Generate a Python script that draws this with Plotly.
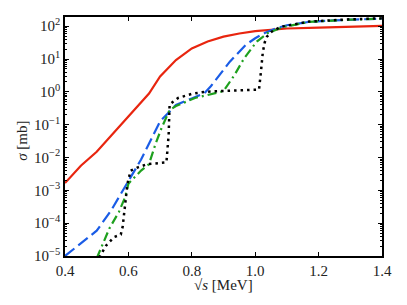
import plotly.graph_objects as go

red_x = [0.4, 0.45, 0.5, 0.55, 0.6, 0.645, 0.665, 0.7, 0.75, 0.8, 0.85, 0.9, 0.95, 1.0, 1.05, 1.1, 1.2, 1.3, 1.4]
red_y = [1.66e-3, 5.6e-3, 1.5e-2, 5.2e-2, 0.18, 0.54, 0.89, 2.95, 9.3, 21, 34, 48, 60, 71, 79, 85, 91, 98, 102]

blue_x = [0.4, 0.45, 0.5, 0.545, 0.58, 0.6, 0.64, 0.7, 0.73, 0.75, 0.8, 0.84, 0.86, 0.92, 0.97, 1.0, 1.03, 1.07, 1.1, 1.17, 1.25, 1.3, 1.4]
blue_y = [1.0e-5, 2.4e-5, 5.9e-5, 2.4e-4, 8.9e-4, 1.8e-3, 8.7e-3, 0.126, 0.26, 0.40, 0.63, 0.91, 1.48, 8.3, 27, 43, 62, 89, 107, 135, 151, 158, 170]

green_x = [0.5, 0.54, 0.57, 0.59, 0.6, 0.64, 0.665, 0.685, 0.705, 0.73, 0.75, 0.81, 0.9, 0.935, 0.965, 1.005, 1.04, 1.09, 1.17, 1.25, 1.3, 1.4]
green_y = [8.5e-6, 6.9e-5, 2.2e-4, 6.3e-4, 1.6e-3, 4.0e-3, 6.3e-3, 2.5e-2, 8.1e-2, 0.28, 0.37, 0.65, 1.05, 3.3, 10.5, 34, 62, 95, 135, 151, 158, 170]

black_x = [0.508, 0.53, 0.555, 0.576, 0.582, 0.587, 0.592, 0.597, 0.607, 0.63, 0.66, 0.72, 0.727, 0.73, 0.742, 0.757, 0.8, 0.84, 0.9, 0.97, 1.012, 1.018, 1.024, 1.03, 1.037, 1.052, 1.08, 1.17, 1.25, 1.3, 1.4]
black_y = [9.0e-6, 2.1e-5, 3.8e-5, 4.5e-5, 7.9e-5, 2.5e-4, 7.9e-4, 1.6e-3, 4.0e-3, 5.0e-3, 6.3e-3, 7.1e-3, 5.0e-2, 0.41, 0.51, 0.65, 0.87, 1.0, 1.07, 1.12, 1.17, 4.0, 16, 32, 48, 68, 95, 138, 155, 162, 174]

x_ticks = [0.4, 0.6, 0.8, 1.0, 1.2, 1.4]
x_ticktext = ["0.4", "0.6", "0.8", "1.0", "1.2", "1.4"]
y_exps = [-5, -4, -3, -2, -1, 0, 1, 2]

y_tickvals = [10.0 ** e for e in y_exps]
y_ticktext = ["10<sup>%s</sup>" % (str(e).replace("-", "\u2212")) for e in y_exps]
y_minor = [m * 10.0 ** e for e in range(-5, 3) for m in range(2, 10)]

fig = go.Figure()
fig.add_trace(go.Scatter(x=red_x, y=red_y, mode="lines",
                         line=dict(color="#e8250f", width=2.2)))
fig.add_trace(go.Scatter(x=blue_x, y=blue_y, mode="lines",
                         line=dict(color="#1a5ce6", width=2.2, dash="12px,5px")))
fig.add_trace(go.Scatter(x=green_x, y=green_y, mode="lines",
                         line=dict(color="#1ea01e", width=2.2, dash="9px,4px,2px,4px")))
fig.add_trace(go.Scatter(x=black_x, y=black_y, mode="lines",
                         line=dict(color="black", width=2.5, dash="2.5px,4px")))

font_family = "Liberation Serif, DejaVu Serif, serif"
# the page body has an 8px default margin, so the figure is sized to fit inside it
fig.update_layout(
    width=391, height=289,
    margin=dict(l=57, r=12, t=7, b=41),
    paper_bgcolor="white", plot_bgcolor="white",
    showlegend=False,
    font=dict(family=font_family, size=15, color="#222"),
    xaxis=dict(
        range=[0.4, 1.4], tickmode="array", tickvals=x_ticks, ticktext=x_ticktext,
        ticks="inside", ticklen=4, tickwidth=1, tickcolor="black",
        showline=True, linecolor="black", linewidth=1.5, mirror="ticks",
        showgrid=False, zeroline=False,
    ),
    yaxis=dict(
        type="log", range=[-5, 2.28], tickmode="array", tickvals=y_tickvals, ticktext=y_ticktext,
        ticks="inside", ticklen=4, tickwidth=1, tickcolor="black",
        showline=True, linecolor="black", linewidth=1.5, mirror="ticks",
        showgrid=False, zeroline=False,
        minor=dict(tickmode="array", tickvals=y_minor, ticks="inside", ticklen=2,
                   tickcolor="black", showgrid=False),
    ),
    annotations=[
        dict(text="\u221a<i>s</i> [MeV]", xref="paper", yref="paper", x=0.5, y=-0.12,
             xanchor="center", yanchor="middle", showarrow=False, font=dict(size=15)),
        dict(text="<i>\u03c3</i> [mb]", xref="paper", yref="paper", x=-0.134, y=0.48,
             xanchor="center", yanchor="middle", textangle=-90, showarrow=False,
             font=dict(size=15)),
    ],
)

fig.write_html("out.html")
